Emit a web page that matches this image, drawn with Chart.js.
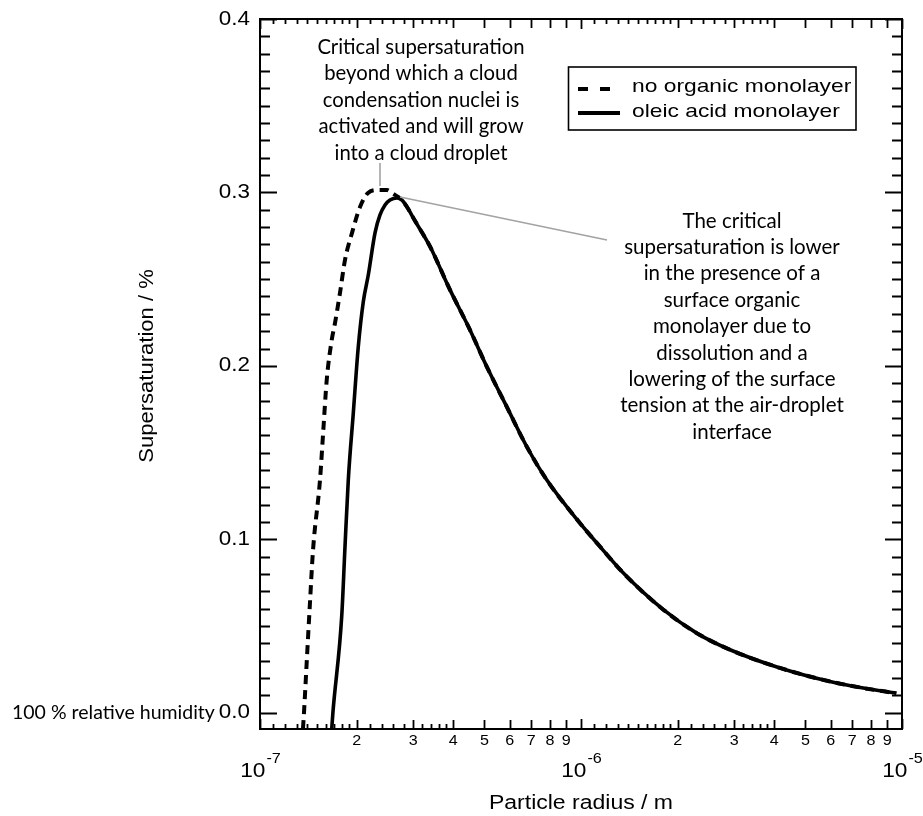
<!DOCTYPE html>
<html>
<head>
<meta charset="utf-8">
<script src="https://cdn.jsdelivr.net/npm/chart.js@4"></script>
<style>
  html, body { margin: 0; padding: 0; background: #fff; }
  canvas { display: block; background: #fff; }
</style>
</head>
<body>
<canvas id="kohler" width="923" height="816" style="width:923px;height:816px"></canvas>
<script>
// rising branch, no organic monolayer (dashed)
const dashRadius = [1.361e-7, 1.371e-7, 1.401e-7, 1.431e-7, 1.463e-7, 1.538e-7, 1.575e-7, 1.614e-7, 1.673e-7, 1.713e-7,
    1.775e-7, 1.840e-7, 1.935e-7, 2.049e-7, 2.170e-7, 2.331e-7, 2.487e-7, 2.578e-7, 2.692e-7];
const dashSat = [-0.0094, 0.0, 0.0323, 0.0634, 0.0939, 0.1343, 0.1631, 0.1919, 0.2150, 0.2248,
    0.2421, 0.2611, 0.2767, 0.2916, 0.2997, 0.3014, 0.3014, 0.2997, 0.2974];

// rising branch, oleic acid monolayer (solid)
const oleicRadius = [1.673e-7, 1.687e-7, 1.797e-7, 1.840e-7, 1.884e-7, 1.953e-7, 2.024e-7, 2.098e-7, 2.175e-7, 2.282e-7,
    2.365e-7, 2.452e-7, 2.541e-7, 2.672e-7];
const oleicSat = [-0.0094, 0.0, 0.0555, 0.0958, 0.1343, 0.1729, 0.2111, 0.2370, 0.2525, 0.2767,
    0.2870, 0.2928, 0.2956, 0.2968];

// past the peak both curves lie on top of each other
const tailRadius = [2.770e-7, 2.871e-7, 3.040e-7, 3.386e-7, 3.908e-7, 4.510e-7, 5.085e-7, 5.869e-7, 6.774e-7, 7.818e-7,
    9.929e-7, 1.146e-6, 1.355e-6, 1.805e-6, 2.293e-6, 2.912e-6, 4.168e-6, 5.966e-6, 7.577e-6, 9.600e-6];
const tailSat = [0.2956, 0.2916, 0.2836, 0.2688, 0.2438, 0.2207, 0.1996, 0.1765, 0.1535, 0.1343,
    0.1093, 0.0958, 0.0805, 0.0594, 0.0459, 0.0363, 0.0258, 0.0180, 0.0142, 0.0112];

const seriesLabels = ['no organic monolayer', 'oleic acid monolayer'];

// axis ticks
const yMajor = [0.0, 0.1, 0.2, 0.3, 0.4];
const yMajorLabels = ['0.0', '0.1', '0.2', '0.3', '0.4'];
const yMinorStep = 0.01;
const xDecades = [-7, -6, -5];
const xLabelled = [2, 3, 4, 5, 6, 7, 8, 9];
const xMinor = [1.1, 1.2, 1.3, 1.4, 1.5, 1.6, 1.7, 1.8, 1.9, 2.2, 2.4, 2.6, 2.8, 3.2, 3.4, 3.6, 3.8];

const noteLeft = ['Critical supersaturation', 'beyond which a cloud', 'condensation nuclei is',
    'activated and will grow', 'into a cloud droplet'];
const noteRight = ['The critical', 'supersaturation is lower', 'in the presence of a', 'surface organic',
    'monolayer due to', 'dissolution and a', 'lowering of the surface', 'tension at the air-droplet', 'interface'];
const humidityNote = '100 % relative humidity';

const toPoints = (xs, ys) => xs.map((x, i) => ({ x: x, y: ys[i] }));

const SANS = '"Liberation Sans", Arial, sans-serif';
const NOTE = 'Lato, "Open Sans", sans-serif';

function txt(ctx, s, x, y, size, family, align, sx, baseline) {
    ctx.save();
    ctx.font = size + 'px ' + family;
    ctx.textAlign = align;
    ctx.textBaseline = baseline || 'middle';
    ctx.translate(x, y);
    ctx.scale(sx, 1);
    ctx.fillText(s, 0, 0);
    ctx.restore();
}

const frame = {
    id: 'frame',
    afterDatasetsDraw(chart) {
        const ctx = chart.ctx;
        const a = chart.chartArea;
        const xs = chart.scales.x, ys = chart.scales.y;
        ctx.save();
        ctx.strokeStyle = '#000';
        ctx.fillStyle = '#000';
        ctx.lineWidth = 2;
        ctx.strokeRect(a.left, a.top, a.right - a.left, a.bottom - a.top);

        // y ticks, inside on both sides
        ctx.lineWidth = 1.8;
        for (let v = 0; v <= 0.4001; v += yMinorStep) {
            const py = Math.round(ys.getPixelForValue(v)) + 0.5;
            const major = yMajor.some(m => Math.abs(m - v) < 1e-6);
            const len = major ? 17 : 10;
            ctx.beginPath();
            ctx.moveTo(a.left, py); ctx.lineTo(a.left + len, py);
            ctx.moveTo(a.right, py); ctx.lineTo(a.right - len, py);
            ctx.stroke();
        }
        yMajor.forEach((v, i) => {
            txt(ctx, yMajorLabels[i], 250, ys.getPixelForValue(v), 20, SANS, 'right', 1.12);
        });

        // x ticks, inside on bottom and top
        const xTick = (val, len) => {
            const px = Math.round(xs.getPixelForValue(val)) + 0.5;
            ctx.beginPath();
            ctx.moveTo(px, a.bottom); ctx.lineTo(px, a.bottom - len);
            ctx.moveTo(px, a.top); ctx.lineTo(px, a.top + len);
            ctx.stroke();
        };
        xDecades.forEach((d, di) => {
            const base = Math.pow(10, d);
            xTick(base, 10);
            if (di === xDecades.length - 1) return;
            xMinor.forEach(m => xTick(m * base, 5));
            xLabelled.forEach(m => {
                xTick(m * base, 9);
                txt(ctx, String(m), xs.getPixelForValue(m * base), 741, 14, SANS, 'center', 1.15);
            });
        });

        // decade labels 10^n
        xDecades.forEach(d => {
            const px = xs.getPixelForValue(Math.pow(10, d));
            ctx.font = '21px ' + SANS;
            const w1 = ctx.measureText('10').width * 1.08;
            ctx.font = '15px ' + SANS;
            const sup = String(d);
            const w2 = ctx.measureText(sup).width * 1.08;
            const x0 = px - (w1 + w2) / 2;
            txt(ctx, '10', x0, 777, 21, SANS, 'left', 1.08, 'alphabetic');
            txt(ctx, sup, x0 + w1 + 1, 763, 15, SANS, 'left', 1.08, 'alphabetic');
        });

        // axis titles
        txt(ctx, 'Particle radius / m', (a.left + a.right) / 2, 803, 20, SANS, 'center', 1.15);
        ctx.save();
        ctx.translate(147, 366);
        ctx.rotate(-Math.PI / 2);
        txt(ctx, 'Supersaturation / %', 0, 0, 21, SANS, 'center', 1.05);
        ctx.restore();

        txt(ctx, humidityNote, 12, 713, 19.5, NOTE, 'left', 1.0);

        // annotations
        noteLeft.forEach((s, i) => txt(ctx, s, 421, 47 + i * 26.5, 20.3, NOTE, 'center', 1.0));
        noteRight.forEach((s, i) => txt(ctx, s, 732, 221 + i * 26.4, 20.5, NOTE, 'center', 1.0));
        ctx.strokeStyle = '#a3a3a3';
        ctx.lineWidth = 1.6;
        ctx.beginPath();
        ctx.moveTo(380, 163); ctx.lineTo(380, 186);
        ctx.moveTo(400, 197); ctx.lineTo(607, 240);
        ctx.stroke();

        // legend box
        ctx.strokeStyle = '#000';
        ctx.lineWidth = 1.6;
        ctx.strokeRect(568.5, 67, 287.5, 63);
        ctx.lineWidth = 4;
        ctx.setLineDash([10, 12]);
        ctx.beginPath(); ctx.moveTo(578, 89); ctx.lineTo(614, 89); ctx.stroke();
        ctx.setLineDash([]);
        ctx.beginPath(); ctx.moveTo(578, 113); ctx.lineTo(620, 113); ctx.stroke();
        txt(ctx, seriesLabels[0], 632, 87, 19, SANS, 'left', 1.2);
        txt(ctx, seriesLabels[1], 632, 112, 19, SANS, 'left', 1.2);
        ctx.restore();
    }
};

new Chart(document.getElementById('kohler'), {
    type: 'line',
    data: {
        datasets: [{
            label: seriesLabels[1],
            data: toPoints(oleicRadius.concat(tailRadius), oleicSat.concat(tailSat)),
            borderColor: '#000',
            borderWidth: 3.6,
            pointRadius: 0,
            cubicInterpolationMode: 'monotone',
            order: 0
        }, {
            label: seriesLabels[0],
            data: toPoints(dashRadius.concat(tailRadius), dashSat.concat(tailSat)),
            borderColor: '#000',
            borderWidth: 4,
            borderDash: [9, 6],
            pointRadius: 0,
            cubicInterpolationMode: 'monotone',
            order: 1
        }]
    },
    options: {
        responsive: false,
        animation: false,
        devicePixelRatio: 1,
        layout: { padding: { left: 260, right: 21, top: 19, bottom: 87 } },
        scales: {
            x: { type: 'logarithmic', min: 1e-7, max: 1e-5, display: false },
            y: { type: 'linear', min: -0.0094, max: 0.4, display: false }
        },
        plugins: {
            legend: { display: false },
            tooltip: { enabled: false }
        }
    },
    plugins: [frame]
});
</script>
</body>
</html>
